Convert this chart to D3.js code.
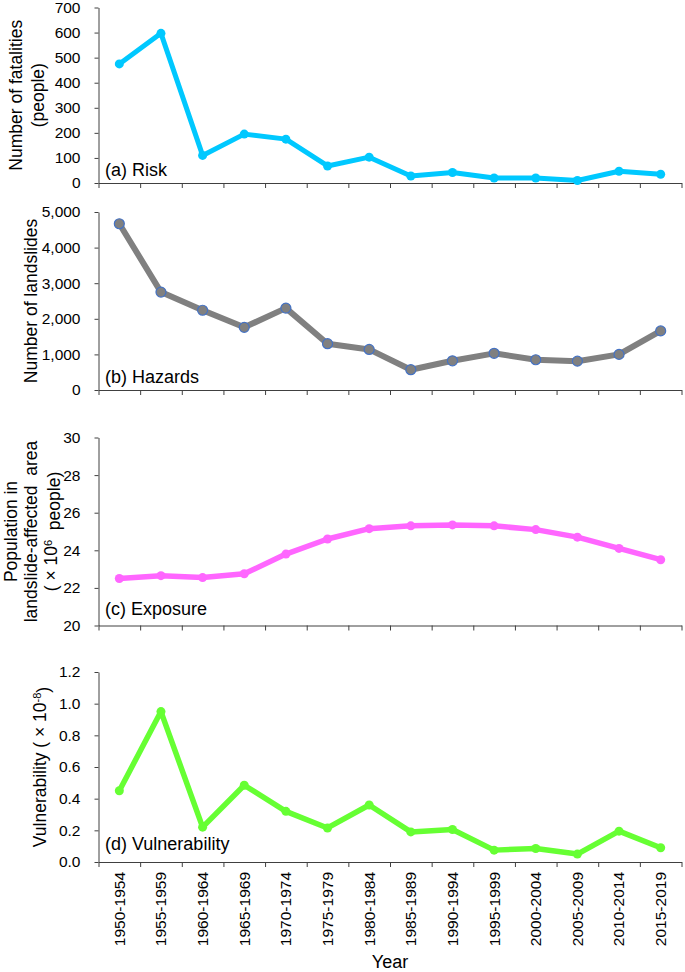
<!DOCTYPE html>
<html lang="en">
<head>
<meta charset="UTF-8">
<title>Landslide risk, hazards, exposure and vulnerability</title>
<script src="https://cdn.jsdelivr.net/npm/d3@7/dist/d3.min.js"></script>
<style>
  body { margin: 0; background: #fff; }
  svg { display: block; font-family: "Liberation Sans", Arial, sans-serif; }
  .axis path, .axis line { stroke: #404040; }
  .axis text { font-size: 15.5px; fill: #000; }
</style>
</head>
<body>
<script>

var w = 685;
var h = 972;

// five-year periods on the x axis
var periods = ["1950-1954", "1955-1959", "1960-1964", "1965-1969", "1970-1974",
               "1975-1979", "1980-1984", "1985-1989", "1990-1994", "1995-1999",
               "2000-2004", "2005-2009", "2010-2014", "2015-2019"];

// (a) risk: number of fatalities
var fatalities = [475, 597, 110, 195, 175, 68, 103, 28, 42, 20, 20, 10, 47, 35];
// (b) hazards: number of landslides
var landslides = [4670, 2750, 2240, 1760, 2300, 1300, 1140, 570, 820, 1030, 850, 810, 1000, 1660];
// (c) exposure: population in landslide-affected area (x10^6)
var exposure = [22.5, 22.65, 22.55, 22.75, 23.8, 24.6, 25.15, 25.3, 25.35, 25.3, 25.1, 24.7, 24.1, 23.5];
// (d) vulnerability (x10^-8)
var vulnerability = [0.45, 0.95, 0.22, 0.485, 0.32, 0.215, 0.36, 0.19, 0.205, 0.075, 0.085, 0.05, 0.195, 0.09];

var fatalityTicks = [0, 100, 200, 300, 400, 500, 600, 700];
var landslideTicks = [0, 1000, 2000, 3000, 4000, 5000];
var exposureTicks = [20, 22, 24, 26, 28, 30];
var vulnerabilityTicks = [0, 0.2, 0.4, 0.6, 0.8, 1.0, 1.2];

var panelLabels = ["(a) Risk", "(b) Hazards", "(c) Exposure", "(d) Vulnerability"];

var left = 98.5, right = 681.5;

var svg = d3.select("body").append("svg")
    .attr("width", w)
    .attr("height", h);

// category bands for points and labels, a linear scale for the boundary ticks
var x = d3.scaleBand().domain(periods).range([left, right]).paddingInner(0).paddingOuter(0);
var xEdge = d3.scaleLinear().domain([0, periods.length]).range([left, right]);

var panels = [
  {values: fatalities, ticks: fatalityTicks, top: 7.5, bottom: 183, fmt: d3.format("d"),
   color: "#00c8ff", stroke: null, lw: 5, r: 4.5, labelDy: -7,
   title: [{t: "Number of fatalities", x: 22}, {t: "(people)", x: 44}]},
  {values: landslides, ticks: landslideTicks, top: 212, bottom: 390, fmt: d3.format(","),
   color: "#808080", stroke: "#4472c4", lw: 6, r: 5, labelDy: -7,
   title: [{t: "Number of landslides", x: 37}]},
  {values: exposure, ticks: exposureTicks, top: 437.5, bottom: 625.5, fmt: d3.format("d"),
   color: "#ff66ff", stroke: null, lw: 5.5, r: 4.5, labelDy: -11,
   title: [{t: "Population in", x: 17}, {t: "landslide-affected  area", x: 37},
           {t: "( \u00d7 10", sup: "6", rest: "  people)", x: 57}]},
  {values: vulnerability, ticks: vulnerabilityTicks, top: 672, bottom: 862, fmt: d3.format(".1f"),
   color: "#66ff33", stroke: null, lw: 5.5, r: 4.5, labelDy: -12,
   title: [{t: "Vulnerability ( \u00d7 10", sup: "-8", rest: ")", x: 46}]}
];

panels.forEach(function(p, i) {
  var y = d3.scaleLinear()
      .domain([p.ticks[0], p.ticks[p.ticks.length - 1]])
      .range([p.bottom, p.top]);

  var g = svg.append("g");

  g.append("g")
      .attr("class", "axis")
      .attr("transform", "translate(" + left + ",0)")
      .call(d3.axisLeft(y).tickValues(p.ticks).tickFormat(p.fmt).tickSize(4).tickPadding(14).tickSizeOuter(0));

  g.append("g")
      .attr("class", "axis")
      .attr("transform", "translate(0," + p.bottom + ")")
      .call(d3.axisBottom(xEdge).tickValues(d3.range(periods.length + 1)).tickFormat("").tickSize(5).tickSizeOuter(0));

  var line = d3.line()
      .x(function(d, j) { return x(periods[j]) + x.bandwidth() / 2; })
      .y(function(d) { return y(d); });

  g.append("path")
      .datum(p.values)
      .attr("d", line)
      .attr("fill", "none")
      .attr("stroke", p.color)
      .attr("stroke-width", p.lw)
      .attr("stroke-linejoin", "round");

  g.selectAll("circle")
      .data(p.values)
      .enter()
      .append("circle")
      .attr("cx", function(d, j) { return x(periods[j]) + x.bandwidth() / 2; })
      .attr("cy", function(d) { return y(d); })
      .attr("r", p.r)
      .attr("fill", p.color)
      .attr("stroke", p.stroke || "none")
      .attr("stroke-width", 1.2);

  g.append("text")
      .attr("x", 105)
      .attr("y", p.bottom + p.labelDy)
      .attr("font-size", "18px")
      .text(panelLabels[i]);

  var cy = (p.top + p.bottom) / 2;
  p.title.forEach(function(t) {
    var txt = g.append("text")
        .attr("transform", "translate(" + t.x + "," + cy + ") rotate(-90)")
        .attr("text-anchor", "middle")
        .attr("font-size", "17.5px")
        .style("white-space", "pre");
    txt.append("tspan").text(t.t);
    if (t.sup) {
      txt.append("tspan").attr("dy", "-0.5em").attr("font-size", "11px").text(t.sup);
      txt.append("tspan").attr("dy", "0.5em").text(t.rest);
    }
  });
});

// x tick labels only under the last panel
svg.append("g")
    .selectAll("text")
    .data(periods)
    .enter()
    .append("text")
    .attr("transform", function(d) {
      return "translate(" + (x(d) + x.bandwidth() / 2) + ",872) rotate(-90)";
    })
    .attr("text-anchor", "end")
    .attr("dy", "0.35em")
    .attr("font-size", "15.5px")
    .text(function(d) { return d; });

svg.append("text")
    .attr("x", (left + right) / 2)
    .attr("y", 968)
    .attr("text-anchor", "middle")
    .attr("font-size", "18px")
    .text("Year");

</script>
</body>
</html>
